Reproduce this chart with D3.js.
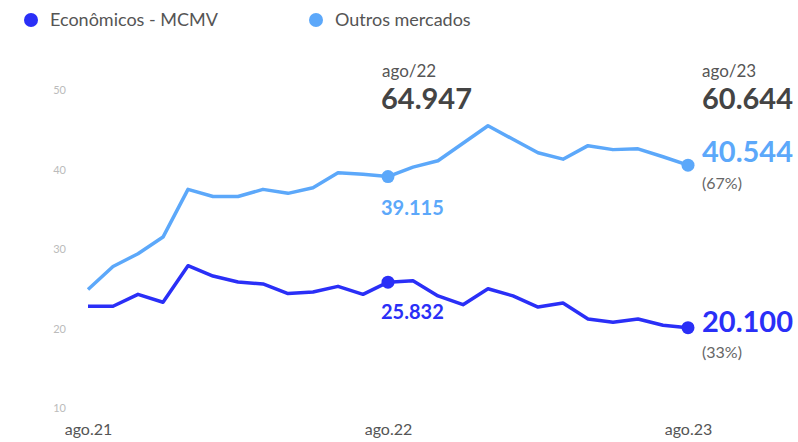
<!DOCTYPE html>
<html>
<head>
<meta charset="utf-8">
<script src="https://cdn.jsdelivr.net/npm/d3@7"></script>
<style>
  body { margin: 0; background: #fff; }
  svg text { font-family: "Source Sans Pro", Lato, "Noto Sans", sans-serif; }
</style>
</head>
<body>
<div id="chart"></div>
<script>
// months ago.21 -> ago.23
var months = ['ago.21','set.21','out.21','nov.21','dez.21','jan.22','fev.22','mar.22','abr.22','mai.22','jun.22','jul.22',
              'ago.22','set.22','out.22','nov.22','dez.22','jan.23','fev.23','mar.23','abr.23','mai.23','jun.23','jul.23','ago.23'];
var xTicks = ['ago.21', 'ago.22', 'ago.23'];
var yTicks = [10, 20, 30, 40, 50];

// thousand units
var economicos = [22.8, 22.8, 24.3, 23.3, 27.9, 26.6, 25.85, 25.6, 24.4, 24.6, 25.3, 24.3,
                  25.832, 26.0, 24.1, 23.0, 25.0, 24.1, 22.7, 23.2, 21.2, 20.8, 21.2, 20.4, 20.1];
var outros = [24.9, 27.8, 29.4, 31.5, 37.5, 36.6, 36.6, 37.5, 37.0, 37.7, 39.6, 39.4,
              39.115, 40.3, 41.1, 43.3, 45.5, 43.8, 42.1, 41.3, 43.0, 42.5, 42.6, 41.6, 40.544];

var seriesNames = ['Econômicos - MCMV', 'Outros mercados'];
var colors = ['#2a2ff7', '#5ca8fa'];

// highlighted months and their labels
var highlight = ['ago.22', 'ago.23'];
var totals = ['64.947', '60.644'];
var headers = ['ago/22', 'ago/23'];
var shares = ['(33%)', '(67%)'];

var width = 798, height = 442;

var svg = d3.select("#chart").append("svg")
    .attr("width", width)
    .attr("height", height);

var x = d3.scalePoint()
    .domain(months)
    .range([88, 688]);

var y = d3.scaleLinear()
    .domain([10, 50])
    .range([408, 90]);

// y axis, labels only
var yAxis = svg.append("g")
    .attr("transform", "translate(66,0)")
    .call(d3.axisLeft(y).tickValues(yTicks).tickSize(0).tickPadding(0));
yAxis.select(".domain").remove();
yAxis.selectAll("text")
    .attr("fill", "#bbb")
    .style("font-size", "11px");

// x axis, labels only
var xAxis = svg.append("g")
    .attr("transform", "translate(0,424)")
    .call(d3.axisBottom(x).tickValues(xTicks).tickSize(0).tickPadding(0));
xAxis.select(".domain").remove();
xAxis.selectAll("text")
    .attr("fill", "#555")
    .style("font-size", "16px");

var line = d3.line()
    .x(function(d, i) { return x(months[i]); })
    .y(function(d) { return y(d); });

[economicos, outros].forEach(function(s, k) {
    svg.append("path")
        .datum(s)
        .attr("fill", "none")
        .attr("stroke", colors[k])
        .attr("stroke-width", 3.5)
        .attr("stroke-linejoin", "round")
        .attr("d", line);

    highlight.forEach(function(m) {
        var i = months.indexOf(m);
        svg.append("circle")
            .attr("cx", x(m))
            .attr("cy", y(s[i]))
            .attr("r", 6.5)
            .attr("fill", colors[k]);
    });
});

function fmt(v) {
    return d3.format(".3f")(v);
}

// ago.22 annotations
var i22 = months.indexOf('ago.22');
svg.append("text")
    .attr("x", x('ago.22') - 6).attr("y", 71)
    .attr("dy", "0.35em")
    .attr("fill", "#555").style("font-size", "17px")
    .text(headers[0]);
svg.append("text")
    .attr("x", x('ago.22') - 7).attr("y", 99)
    .attr("dy", "0.35em")
    .attr("fill", "#444").style("font-size", "29px").style("font-weight", "bold")
    .text(totals[0]);
svg.append("text")
    .attr("x", x('ago.22') - 7).attr("y", y(outros[i22]) + 31)
    .attr("dy", "0.35em")
    .attr("fill", colors[1]).style("font-size", "20px").style("font-weight", "bold")
    .text(fmt(outros[i22]));
svg.append("text")
    .attr("x", x('ago.22') - 7).attr("y", y(economicos[i22]) + 30)
    .attr("dy", "0.35em")
    .attr("fill", colors[0]).style("font-size", "20px").style("font-weight", "bold")
    .text(fmt(economicos[i22]));

// ago.23 annotations
var i23 = months.indexOf('ago.23');
var xr = x('ago.23') + 14;
svg.append("text")
    .attr("x", xr).attr("y", 71)
    .attr("dy", "0.35em")
    .attr("fill", "#555").style("font-size", "17px")
    .text(headers[1]);
svg.append("text")
    .attr("x", xr).attr("y", 99)
    .attr("dy", "0.35em")
    .attr("fill", "#444").style("font-size", "29px").style("font-weight", "bold")
    .text(totals[1]);
svg.append("text")
    .attr("x", xr).attr("y", 152)
    .attr("dy", "0.35em")
    .attr("fill", colors[1]).style("font-size", "29px").style("font-weight", "bold")
    .text(fmt(outros[i23]));
svg.append("text")
    .attr("x", xr).attr("y", 183)
    .attr("dy", "0.35em")
    .attr("fill", "#666").style("font-size", "16px")
    .text(shares[1]);
svg.append("text")
    .attr("x", xr).attr("y", 322)
    .attr("dy", "0.35em")
    .attr("fill", colors[0]).style("font-size", "29px").style("font-weight", "bold")
    .text(fmt(economicos[i23]));
svg.append("text")
    .attr("x", xr).attr("y", 352)
    .attr("dy", "0.35em")
    .attr("fill", "#666").style("font-size", "16px")
    .text(shares[0]);

// legend
var legendX = [31, 316];
var legend = svg.append("g");
seriesNames.forEach(function(name, k) {
    legend.append("circle")
        .attr("cx", legendX[k]).attr("cy", 20)
        .attr("r", 7)
        .attr("fill", colors[k]);
    legend.append("text")
        .attr("x", legendX[k] + 19).attr("y", 20)
        .attr("dy", "0.35em")
        .attr("fill", "#555").style("font-size", "18px")
        .text(name);
});
</script>
</body>
</html>
